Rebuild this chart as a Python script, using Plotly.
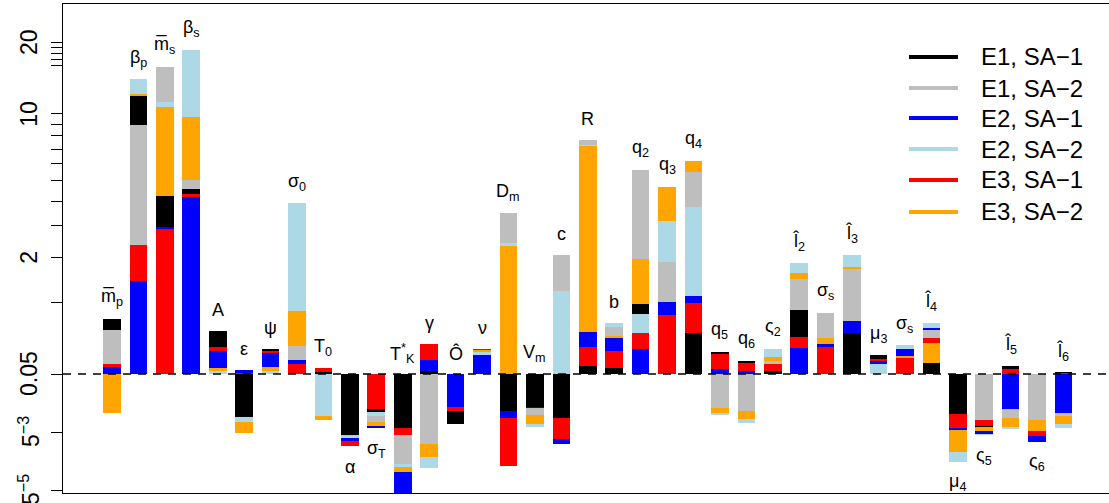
import numpy as np
import plotly.graph_objects as go

# ---- data -----------------------------------------------------------------
params = [
    "m\u0305<sub>p</sub>", "β<sub>p</sub>", "m\u0305<sub>s</sub>", "β<sub>s</sub>", "A", "ε", "ψ",
    "σ<sub>0</sub>", "T<sub>0</sub>", "α", "σ<sub>T</sub>", "T<sup>*</sup><sub>K</sub>", "γ", "Ô",
    "ν", "D<sub>m</sub>", "V<sub>m</sub>", "c", "R", "b", "q<sub>2</sub>", "q<sub>3</sub>",
    "q<sub>4</sub>", "q<sub>5</sub>", "q<sub>6</sub>", "ς<sub>2</sub>", "l\u0302<sub>2</sub>",
    "σ<sub>s</sub>", "l\u0302<sub>3</sub>", "μ<sub>3</sub>", "σ<sub>s</sub>", "l\u0302<sub>4</sub>",
    "μ<sub>4</sub>", "ς<sub>5</sub>", "l\u0302<sub>5</sub>", "ς<sub>6</sub>", "l\u0302<sub>6</sub>",
]

e1_sa1 = [0.725, 11.9, 4.23, 4.58, 0.548, 0.0107, 0.316, 0.05, 0.069, 0.0042, 0.0133, 0.0062,
          0.079, 0.0076, 0.05, 0.0139, 0.0164, 0.0102, 0.129, 0.108, 0.975, 0.05, 0.52, 0.281,
          0.181, 0.079, 0.871, 0.05, 0.52, 0.246, 0.05, 0.160, 0.0122, 0.0065, 0.129, 0.05, 0.062]
e1_sa2 = [0.562, 8.9, 15.8, 5.05, 0.05, 0.05, 0.05, 0.352, 0.05, 0.0040, 0.0084, 0.00059,
          0.0025, 0.05, 0.05, 3.49, 0.0117, 2.07, 7.68, 0.605, 5.62, 1.89, 5.50, 0.0158,
          0.0139, 0.181, 1.47, 0.821, 1.71, 0.05, 0.05, 0.562, 0.05, 0.0093, 0.0102, 0.0093, 0.0112]
e2_sa1 = [0.119, 1.43, 2.96, 4.2, 0.292, 0.089, 0.269, 0.191, 0.05, 0.0030, 0.0062, 0.00002,
          0.191, 0.0164, 0.246, 0.0102, 0.0158, 0.0025, 0.534, 0.453, 0.316, 1.01, 1.12, 0.098,
          0.079, 0.05, 0.328, 0.377, 0.694, 0.181, 0.316, 0.590, 0.0056, 0.0045, 0.0151, 0.0028, 0.0127]
e2_sa2 = [0.05, 14.0, 11.2, 18.6, 0.079, 0.0084, 0.079, 3.91, 0.0112, 0.0036, 0.0112, 0.00046,
          0.00042, 0.05, 0.286, 2.43, 0.0065, 1.22, 7.33, 0.664, 0.80, 3.18, 3.74, 0.0117,
          0.0080, 0.316, 1.86, 0.05, 2.07, 0.149, 0.364, 0.664, 0.00069, 0.0042, 0.0059, 0.05, 0.0062]
e3_sa1 = [0.149, 2.36, 2.89, 4.35, 0.340, 0.058, 0.292, 0.149, 0.108, 0.0022, 0.0151, 0.0042,
          0.377, 0.0139, 0.316, 0.0005, 0.05, 0.0034, 0.340, 0.292, 0.520, 0.79, 0.99, 0.258,
          0.160, 0.149, 0.466, 0.340, 0.05, 0.202, 0.213, 0.453, 0.0062, 0.0069, 0.098, 0.0040, 0.058]
e3_sa2 = [0.0127, 12.2, 10.7, 9.7, 0.108, 0.0047, 0.119, 0.854, 0.0093, 0.05, 0.0069, 0.00030,
          0.0010, 0.05, 0.304, 2.33, 0.0076, 0.05, 7.22, 0.473, 1.96, 4.68, 6.18, 0.0127,
          0.0097, 0.224, 1.61, 0.453, 1.76, 0.05, 0.235, 0.389, 0.00144, 0.0053, 0.0065, 0.0053, 0.0076]

series_names = ["E1, SA\u22121", "E1, SA\u22122", "E2, SA\u22121", "E2, SA\u22122", "E3, SA\u22121", "E3, SA\u22122"]
series_values = [e1_sa1, e1_sa2, e2_sa1, e2_sa2, e3_sa1, e3_sa2]
series_colors = ["#000000", "#BEBEBE", "#0000FF", "#ADD8E6", "#FF0000", "#FFA500"]

# labels written under the bar instead of above it
labels_below = {9, 10, 32, 33, 35}

major_ticks = [20, 10, 2, 0.05, 5e-3, 5e-5]
major_text = ["20", "10", "2", "0.05", "5<sup>\u22123</sup>", "5<sup>\u22125</sup>"]
minor_ticks = [19, 18, 17, 16, 9, 8, 7, 6, 5, 4, 3, 1]

BASE = 0.05


# ---- axis transform: log(1+x) above the 0.05 reference, log-log below -------
def to_axis(v):
    v = np.asarray(v, dtype=float)
    out = np.empty_like(v)
    hi = v >= BASE
    out[hi] = np.log((1.0 + v[hi]) / (1.0 + BASE))
    out[~hi] = -0.7554 * np.log(1.0 + np.log10(BASE / v[~hi]))
    return out


U = np.array([to_axis(s) for s in series_values])  # shape (6, n)
n = U.shape[1]
x = np.arange(n)

fig = go.Figure()

# bars are overlaid with the longest in the back, so every series stays visible
order = np.argsort(-np.abs(U), axis=0, kind="stable")
for rank in range(len(series_values)):
    idx = order[rank]
    fig.add_trace(go.Bar(
        x=x,
        y=U[idx, x],
        base=0,
        width=0.667,
        marker=dict(color=[series_colors[k] for k in idx], line=dict(width=0)),
        showlegend=False,
        hoverinfo="skip",
    ))

# reference line at 0.05
fig.add_shape(type="line", xref="paper", x0=0, x1=1, yref="y", y0=0, y1=0,
              line=dict(color="black", width=1.5, dash="8px,7px"), layer="above")

# parameter labels
tops = np.clip(U.max(axis=0), 0, None)
bottoms = np.clip(U.min(axis=0), None, 0)
for i, lab in enumerate(params):
    if i in labels_below:
        yv, shift = bottoms[i], -21
    else:
        yv, shift = tops[i], 21
    fig.add_annotation(x=i, y=yv, text=lab, showarrow=False, yshift=shift,
                       xanchor="center", yanchor="middle",
                       font=dict(family="Liberation Sans, Arial", size=18, color="black"))

PL, PR, PT, PB = 63, 1109, 4, 493

# y tick labels, written along the axis
for val, txt in zip(to_axis(major_ticks), major_text):
    fig.add_annotation(xref="paper", yref="y", x=(29 - PL) / (PR - PL), y=val, text=txt,
                       textangle=-90, showarrow=False, xanchor="center", yanchor="middle",
                       font=dict(family="Liberation Sans, Arial", size=23, color="black"))

# legend
row_y = [57, 88, 118, 149, 180, 212]
for name, col, ry in zip(series_names, series_colors, row_y):
    yp = (PB - ry) / (PB - PT)
    fig.add_shape(type="line", xref="paper", yref="paper",
                  x0=(909 - PL) / (PR - PL), x1=(958 - PL) / (PR - PL), y0=yp, y1=yp,
                  line=dict(color=col, width=4))
    fig.add_annotation(xref="paper", yref="paper", x=(979 - PL) / (PR - PL), y=yp,
                       text=name, showarrow=False, xanchor="left", yanchor="middle",
                       font=dict(family="Liberation Sans, Arial", size=24, color="black"))

fig.update_layout(
    width=1109, height=503,
    margin=dict(l=PL, r=0, t=PT, b=503 - PB, pad=0),
    plot_bgcolor="white", paper_bgcolor="white",
    barmode="overlay", bargap=0,
    showlegend=False,
    font=dict(family="Liberation Sans, Arial", color="black"),
)
fig.update_xaxes(range=[(PL - 112) / 26.43, (PR - 112) / 26.43], showticklabels=False,
                 ticks="", showgrid=False, zeroline=False, showline=True, mirror=True,
                 linecolor="black", linewidth=1.3)
fig.update_yaxes(range=[-(PB - 374) / 110.8, (374 - PT) / 110.8],
                 tickmode="array", tickvals=to_axis(major_ticks), showticklabels=False,
                 ticks="outside", ticklen=11, tickwidth=1.2, tickcolor="black",
                 minor=dict(tickmode="array", tickvals=to_axis(minor_ticks), ticks="outside",
                            ticklen=11, tickwidth=1.2, tickcolor="black"),
                 showgrid=False, zeroline=False, showline=True, linecolor="black", linewidth=1.3)

fig.write_html("out.html")
